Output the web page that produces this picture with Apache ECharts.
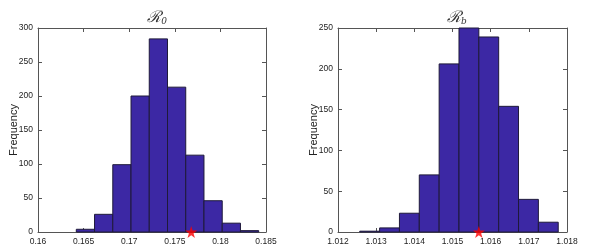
<!DOCTYPE html>
<html><head><meta charset="utf-8">
<script src="https://cdn.jsdelivr.net/npm/echarts@6/dist/echarts.min.js"></script>
<style>html,body{margin:0;padding:0;background:#fff}#c{width:590px;height:250px}</style>
</head><body><div id="c"></div>
<script>
// Left histogram (R0)
const r0Edges = [0.1642, 0.1662, 0.1682, 0.1702, 0.1722, 0.1742, 0.1762, 0.1782, 0.1802, 0.1822, 0.1842];
const r0Counts = [4, 26, 99, 200, 284, 213, 113, 46, 13, 2];
const r0Star = [0.1768, 0];
const r0Ticks = [0.16, 0.165, 0.17, 0.175, 0.18, 0.185];
// Right histogram (Rb)
const rbEdges = [1.01257, 1.01309, 1.01361, 1.01413, 1.01465, 1.01517, 1.01569, 1.01621, 1.01673, 1.01725, 1.01777];
const rbCounts = [1, 5, 23, 70, 206, 250, 239, 154, 40, 12];
const rbStar = [1.01569, 0];
const rbTicks = [1.012, 1.013, 1.014, 1.015, 1.016, 1.017, 1.018];

const chart = echarts.init(document.getElementById('c'));
const FONT = 'Liberation Sans';
const axisCol = '#555';
const starPath = 'path://M50,0 L61.8,35.1 L98.9,35.1 L68.9,56.8 L80.3,91.9 L50,70.2 L19.7,91.9 L31.1,56.8 L1.1,35.1 L38.2,35.1 Z';

function histData(edges, counts){
  return counts.map((c,i)=>[edges[i], edges[i+1], c]);
}
function renderBar(params, api){
  const p0 = api.coord([api.value(0), 0]);
  const p1 = api.coord([api.value(1), api.value(2)]);
  return {type:'rect', shape:{x:p0[0], y:p1[1], width:p1[0]-p0[0], height:p0[1]-p1[1]},
    style:{fill:'#3c28a4', stroke:'#1f1a3a', lineWidth:1}};
}
function xAx(gi, ticks, dec, pos){
  return {type:'value', gridIndex:gi, position:pos, min:ticks[0], max:ticks[ticks.length-1],
    interval: +(ticks[1]-ticks[0]).toFixed(6),
    axisLine:{show:true, onZero:false, lineStyle:{color:axisCol, width:1}},
    axisTick:{show:true, inside:true, length:4, lineStyle:{color:axisCol}},
    axisLabel:{show: pos==='bottom', color:'#222', fontSize:8.5, fontFamily:FONT, margin:5,
      formatter: v => String(parseFloat((+v).toFixed(dec)))},
    splitLine:{show:false}};
}
function yAx(gi, max, interval, pos){
  return {type:'value', gridIndex:gi, position:pos, min:0, max:max, interval:interval,
    name: pos==='left' ? 'Frequency' : '', nameLocation:'middle', nameGap:19, nameMoveOverlap:false,
    nameTextStyle:{fontSize:11, fontFamily:FONT, color:'#222'},
    axisLine:{show:true, onZero:false, lineStyle:{color:axisCol, width:1}},
    axisTick:{show:true, inside:true, length:4, lineStyle:{color:axisCol}},
    axisLabel:{show: pos==='left', color:'#222', fontSize:8.5, fontFamily:FONT, margin:5},
    splitLine:{show:false}};
}
const titleRich = {
  r:{fontSize:16, fontFamily:'DejaVu Serif', fontStyle:'italic', fontWeight:'normal', color:'#333'},
  s:{fontSize:9, fontFamily:'DejaVu Serif', fontStyle:'italic', fontWeight:'normal', color:'#333', verticalAlign:'bottom', padding:[8,0,0,0]}
};

chart.setOption({
  animation:false,
  title:[
    {text:'{r|ℛ}{s|0}', left:152, top:4, textAlign:'center', textStyle:{fontWeight:'normal', rich:titleRich}},
    {text:'{r|ℛ}{s|b}', left:452, top:4, textAlign:'center', textStyle:{fontWeight:'normal', rich:titleRich}}
  ],
  grid:[
    {left:38, top:28, width:228, height:204},
    {left:338, top:28, width:229, height:204}
  ],
  xAxis:[xAx(0, r0Ticks, 3, 'bottom'), xAx(0, r0Ticks, 3, 'top'), xAx(1, rbTicks, 3, 'bottom'), xAx(1, rbTicks, 3, 'top')],
  yAxis:[yAx(0, 300, 50, 'left'), yAx(0, 300, 50, 'right'), yAx(1, 250, 50, 'left'), yAx(1, 250, 50, 'right')],
  series:[
    {type:'custom', xAxisIndex:0, yAxisIndex:0, renderItem:renderBar, encode:{x:[0,1], y:2}, data:histData(r0Edges, r0Counts)},
    {type:'scatter', xAxisIndex:0, yAxisIndex:0, symbol:starPath, symbolSize:12, itemStyle:{color:'#ff0000'}, data:[r0Star], z:5, clip:false},
    {type:'custom', xAxisIndex:2, yAxisIndex:2, renderItem:renderBar, encode:{x:[0,1], y:2}, data:histData(rbEdges, rbCounts)},
    {type:'scatter', xAxisIndex:2, yAxisIndex:2, symbol:starPath, symbolSize:12, itemStyle:{color:'#ff0000'}, data:[rbStar], z:5, clip:false}
  ]
});
</script></body></html>
